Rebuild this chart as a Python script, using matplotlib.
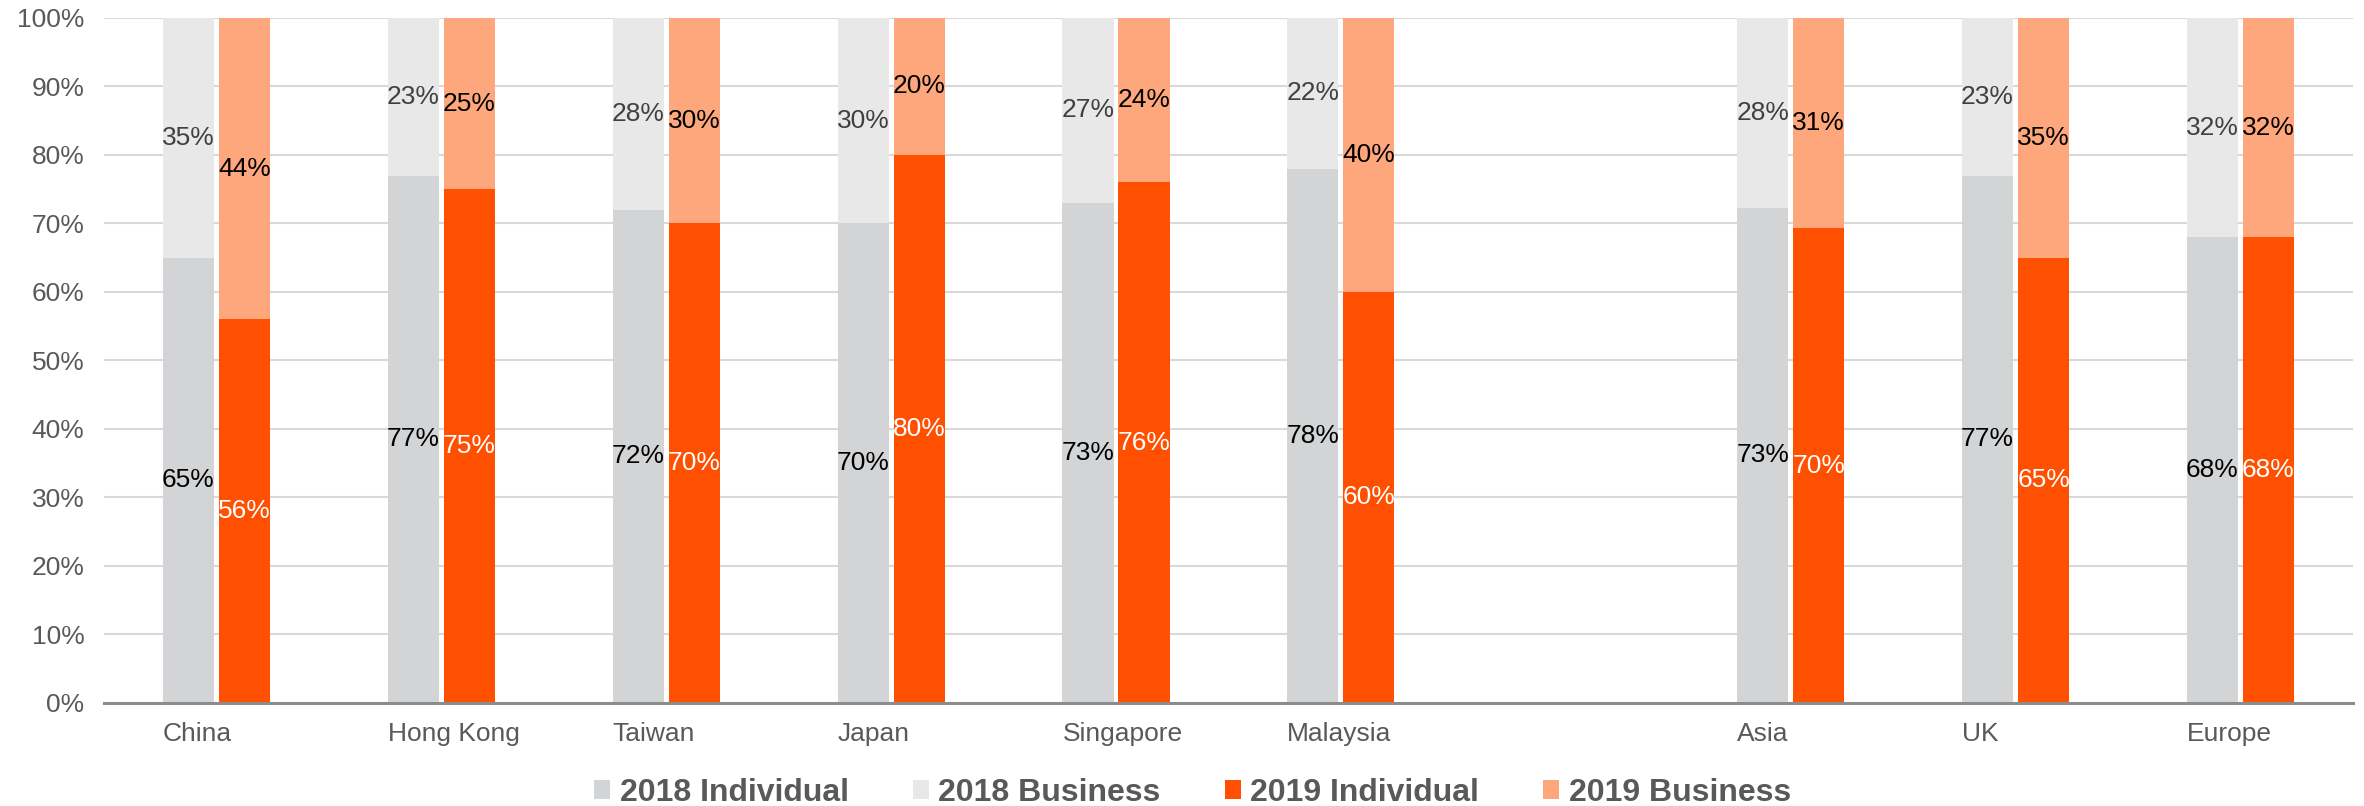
import numpy as np
import matplotlib.pyplot as plt
from matplotlib.ticker import PercentFormatter
from matplotlib.patches import Patch

plt.rcParams['font.family'] = ['Liberation Sans', 'DejaVu Sans']

# --- data (shares in %) ---
markets = ['China', 'Hong Kong', 'Taiwan', 'Japan', 'Singapore', 'Malaysia', 'Asia', 'UK', 'Europe']
ind_2018 = [65, 77, 72, 70, 73, 78, 73, 77, 68]
bus_2018 = [35, 23, 28, 30, 27, 22, 28, 23, 32]
ind_2019 = [56, 75, 70, 80, 76, 60, 70, 65, 68]
bus_2019 = [44, 25, 30, 20, 24, 40, 31, 35, 32]

c_ind18, c_bus18 = '#D3D4D6', '#E7E8E7'
c_ind19, c_bus19 = '#FE5000', '#FEA77C'

# one empty slot between the country group and the regional totals
x = np.arange(len(markets), dtype=float)
x[6:] += 1

w = 0.227
off = 0.1245

fig = plt.figure(figsize=(23.64, 8.06), dpi=100)
ax = fig.add_axes([0.044, 0.1278, 0.9513, 0.8499])


def stacked(pos, ind, bus, c_ind, c_bus, lc_ind, lc_bus):
    ind = np.array(ind, dtype=float)
    bus = np.array(bus, dtype=float)
    tot = ind + bus
    # 100% stacked: each bar is scaled to its own total
    s_ind = ind / tot * 100
    s_bus = bus / tot * 100
    ax.bar(pos, s_ind, width=w, color=c_ind, zorder=2)
    ax.bar(pos, s_bus, width=w, bottom=s_ind, color=c_bus, zorder=2)
    for xi, a, b, va, vb in zip(pos, s_ind, s_bus, ind, bus):
        ax.text(xi, a / 2, f'{va:.0f}%', ha='center', va='center',
                fontsize=19, color=lc_ind, zorder=3)
        ax.text(xi, a + b / 2, f'{vb:.0f}%', ha='center', va='center',
                fontsize=19, color=lc_bus, zorder=3)


stacked(x - off, ind_2018, bus_2018, c_ind18, c_bus18, 'black', '#404040')
stacked(x + off, ind_2019, bus_2019, c_ind19, c_bus19, 'white', 'black')

ax.set_ylim(0, 100)
ax.set_xlim(-0.5, 9.5)
ax.set_yticks(np.arange(0, 101, 10))
ax.yaxis.set_major_formatter(PercentFormatter(decimals=0))
ax.grid(axis='y', color='#D9D9D9', lw=1.5, zorder=0)
ax.set_axisbelow(True)

# category labels start at the left edge of each bar pair
ax.set_xticks(x - off - w / 2)
ax.set_xticklabels(markets, ha='left')
ax.tick_params(axis='both', length=0, labelsize=19, colors='#595959')
ax.tick_params(axis='x', pad=14)
ax.tick_params(axis='y', pad=14)

for s in ['top', 'right', 'left']:
    ax.spines[s].set_visible(False)
ax.spines['bottom'].set_color('#8C8C8C')
ax.spines['bottom'].set_linewidth(2.2)
ax.spines['bottom'].set_zorder(4)

handles = [Patch(facecolor=c_ind18, label='2018 Individual'),
           Patch(facecolor=c_bus18, label='2018 Business'),
           Patch(facecolor=c_ind19, label='2019 Individual'),
           Patch(facecolor=c_bus19, label='2019 Business')]
leg = fig.legend(handles=handles, loc='lower center', bbox_to_anchor=(0.5045, -0.038),
                 ncol=4, frameon=False, handlelength=0.5, handleheight=0.5,
                 handletextpad=0.3, columnspacing=2.0,
                 prop={'size': 23, 'weight': 'bold'})
for t in leg.get_texts():
    t.set_color('#595959')

fig.savefig('out.png', dpi=100)
